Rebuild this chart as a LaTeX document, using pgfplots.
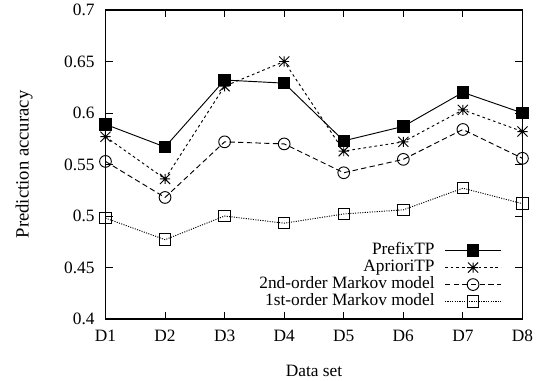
\documentclass[border=0pt]{standalone}
\usepackage{fontspec}
\setmainfont{Liberation Serif}
\usepackage{pgfplots}
\pgfplotsset{compat=1.18}
\pgfdeclareplotmark{gpstar}{%
  \pgfpathmoveto{\pgfqpoint{-\pgfplotmarksize}{0pt}}\pgfpathlineto{\pgfqpoint{\pgfplotmarksize}{0pt}}%
  \pgfpathmoveto{\pgfqpoint{0pt}{-\pgfplotmarksize}}\pgfpathlineto{\pgfqpoint{0pt}{\pgfplotmarksize}}%
  \pgfpathmoveto{\pgfqpoint{-\pgfplotmarksize}{-\pgfplotmarksize}}\pgfpathlineto{\pgfqpoint{\pgfplotmarksize}{\pgfplotmarksize}}%
  \pgfpathmoveto{\pgfqpoint{-\pgfplotmarksize}{\pgfplotmarksize}}\pgfpathlineto{\pgfqpoint{\pgfplotmarksize}{-\pgfplotmarksize}}%
  \pgfusepathqstroke}
\begin{document}
\fontsize{13}{15}\selectfont
\begin{tikzpicture}
\begin{axis}[
  scale only axis,
  width=312.75pt, height=231.75pt,
  at={(0,0)}, anchor=south west,
  xmin=1, xmax=8, ymin=0.4, ymax=0.7,
  xtick={1,...,8},
  xticklabels={D1,D2,D3,D4,D5,D6,D7,D8},
  ytick={0.4,0.45,0.5,0.55,0.6,0.65,0.7},
  yticklabels={0.4,0.45,0.5,0.55,0.6,0.65,0.7},
  tick align=inside,
  major tick length=5.5pt,
  axis line style={line width=1.1pt},
  every tick/.style={black, line width=0.7pt},
  xticklabel style={anchor=north, inner sep=0pt, yshift=-8.3pt},
  yticklabel style={anchor=east, inner sep=0pt, xshift=-8pt},
  xlabel={Data set},
  ylabel={Prediction accuracy},
  every axis x label/.style={at={(axis description cs:0.5,-0.1685)}, anchor=center},
  every axis y label/.style={at={(axis description cs:-0.195,0.5)}, rotate=90, anchor=center, font=\fontsize{14}{16}\selectfont},
  clip=false,
  legend plot pos=right,
  legend cell align=right,
  legend image code/.code={\draw[mark repeat=2,mark phase=2,#1] plot coordinates {(0pt,0pt) (21pt,0pt) (42pt,0pt)};},
  legend style={at={(axis description cs:1,0)}, anchor=south east, xshift=-15.5pt, yshift=6.5pt,
    draw=none, fill=none, inner sep=0pt, row sep=0pt, column sep=7.5pt,
    nodes={inner sep=0pt, text height=9.5pt, text depth=3.25pt}},
]
\addplot[black, line width=0.7pt, mark=square*, mark size=4.25pt, mark options={solid}]
  coordinates {(1,0.589) (2,0.567) (3,0.632) (4,0.629) (5,0.573) (6,0.587) (7,0.620) (8,0.600)};
\addlegendentry{PrefixTP}
\addplot[black, line width=0.7pt, dash pattern=on 2pt off 2.2pt, mark=gpstar, mark size=3.8pt, mark options={solid}]
  coordinates {(1,0.577) (2,0.536) (3,0.626) (4,0.650) (5,0.563) (6,0.572) (7,0.603) (8,0.582)};
\addlegendentry{AprioriTP}
\addplot[black, line width=0.7pt, dash pattern=on 4pt off 2.5pt, mark=o, mark size=4.4pt, mark options={solid}]
  coordinates {(1,0.553) (2,0.518) (3,0.572) (4,0.570) (5,0.542) (6,0.555) (7,0.584) (8,0.556)};
\addlegendentry{2nd-order Markov model}
\addplot[black, line width=0.7pt, dash pattern=on 0.8pt off 1pt, mark=square, mark size=4.3pt, mark options={solid}]
  coordinates {(1,0.498) (2,0.477) (3,0.500) (4,0.493) (5,0.502) (6,0.506) (7,0.527) (8,0.512)};
\addlegendentry{1st-order Markov model}
\end{axis}
\pgfresetboundingbox
\useasboundingbox (-79.1pt,-45.75pt) rectangle (330.4pt,239.25pt);
\end{tikzpicture}
\end{document}
